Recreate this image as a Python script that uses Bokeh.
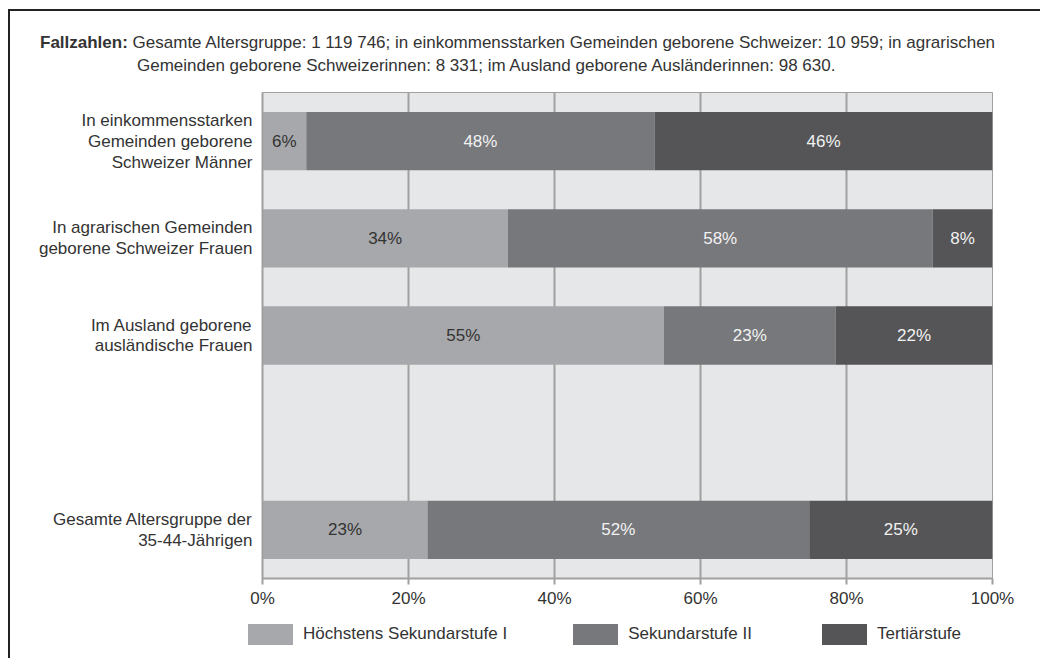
from bokeh.plotting import figure
from bokeh.models import ColumnDataSource, Div, FixedTicker, PrintfTickFormatter, FactorRange
from bokeh.layouts import column
from bokeh.core.properties import value
from bokeh.embed import file_html
from bokeh.resources import INLINE

FONT = "Liberation Sans"
FS = "17px"

# ---- data ----
categories = [
    "In einkommensstarken\nGemeinden geborene\nSchweizer Männer",
    "In agrarischen Gemeinden\ngeborene Schweizer Frauen",
    "Im Ausland geborene\nausländische Frauen",
    "Gesamte Altersgruppe der\n35-44-Jährigen",
]
gap_slot = " "
series = ["Höchstens Sekundarstufe I", "Sekundarstufe II", "Tertiärstufe"]
low = [6.0, 33.6, 55.0, 22.6]
mid = [47.7, 58.2, 23.5, 52.3]
high = [46.3, 8.2, 21.5, 25.1]
low_labels = ["6%", "34%", "55%", "23%"]
mid_labels = ["48%", "58%", "23%", "52%"]
high_labels = ["46%", "8%", "22%", "25%"]
x_ticks = [0, 20, 40, 60, 80, 100]
title_bold = "Fallzahlen:"
title_line1 = "Gesamte Altersgruppe: 1 119 746; in einkommensstarken Gemeinden geborene Schweizer: 10 959; in agrarischen"
title_line2 = "Gemeinden geborene Schweizerinnen: 8 331; im Ausland geborene Ausländerinnen: 98 630."

colors = ["#a7a8ab", "#77787b", "#555557"]
label_colors = ["#333333", "#f2f2f2", "#f2f2f2"]
legend_gaps = [0, 66, 70]

factors = [categories[3], gap_slot, categories[2], categories[1], categories[0]]

src = ColumnDataSource(dict(cat=categories, low=low, mid=mid, high=high))

p = figure(
    width=1030, height=531,
    y_range=FactorRange(*factors, range_padding=0),
    x_range=(0, 100),
    output_backend="svg", toolbar_location=None,
    min_border_left=252, min_border_right=48, min_border_top=11, min_border_bottom=34,
    background_fill_color="#e6e7e8", border_fill_color="white",
    margin=0,
)

p.hbar_stack(["low", "mid", "high"], y="cat", height=0.6, source=src,
             color=colors, line_color=None)

# segment labels
for vals, labs, col, prev in [
    (low, low_labels, label_colors[0], [0] * 4),
    (mid, mid_labels, label_colors[1], low),
    (high, high_labels, label_colors[2], [a + b for a, b in zip(low, mid)]),
]:
    xs = [pv + v / 2 for pv, v in zip(prev, vals)]
    p.text(x=xs, y=categories, text=labs, text_align="center", text_baseline="middle",
           text_font=value(FONT), text_font_size=FS, text_color=col)

p.xaxis.ticker = FixedTicker(ticks=x_ticks)
p.xaxis.formatter = PrintfTickFormatter(format="%d%%")
p.xaxis.axis_line_color = "#a0a0a0"
p.xaxis.axis_line_width = 2
p.xaxis.major_tick_line_color = "#a0a0a0"
p.xaxis.major_tick_line_width = 2
p.xaxis.major_tick_in = 0
p.xaxis.major_tick_out = 6
p.xaxis.minor_tick_line_color = None
p.xaxis.major_label_standoff = 4
p.xaxis.major_label_text_font = FONT
p.xaxis.major_label_text_font_size = FS
p.xaxis.major_label_text_color = "#333333"

p.yaxis.axis_line_color = "#a0a0a0"
p.yaxis.axis_line_width = 2
p.yaxis.major_tick_line_color = None
p.yaxis.minor_tick_line_color = None
p.yaxis.major_label_standoff = 4
p.yaxis.major_label_text_font = FONT
p.yaxis.major_label_text_font_size = FS
p.yaxis.major_label_text_color = "#333333"
p.yaxis.major_label_text_align = "right"
p.yaxis.major_label_text_line_height = 1.1

p.xgrid.grid_line_color = "#a0a0a0"
p.xgrid.grid_line_width = 2
p.ygrid.grid_line_color = None
p.outline_line_color = "#a0a0a0"
p.outline_line_width = 1

base_style = f"font-family:{FONT}; font-size:{FS}; color:#333333; white-space:nowrap"

title_div = Div(
    text=(f'<div style="{base_style}; padding-top:20px; padding-left:30px; line-height:23px">'
          f'<b>{title_bold}</b> {title_line1}<br>'
          f'<span style="padding-left:97px">{title_line2}</span></div>'),
    width=1030, height=70, margin=0,
)

legend_parts = []
for s, c, g in zip(series, colors, legend_gaps):
    legend_parts.append(
        f'<span style="display:inline-block; width:45px; height:21px; background:{c}; '
        f'margin-left:{g}px"></span>'
        f'<span style="margin-left:10px">{s}</span>')
legend_div = Div(
    text=(f'<div style="{base_style}; padding-top:10px; padding-left:238px; '
          f'display:flex; align-items:center">' + "".join(legend_parts) + '</div>'),
    width=1030, height=46, margin=0,
)

layout = column(title_div, p, legend_div, spacing=0, margin=(9, 0, 0, 8),
                styles={"border-left": "2px solid #222", "border-top": "2px solid #222"})

open("out.html", "w").write(file_html(layout, INLINE))
